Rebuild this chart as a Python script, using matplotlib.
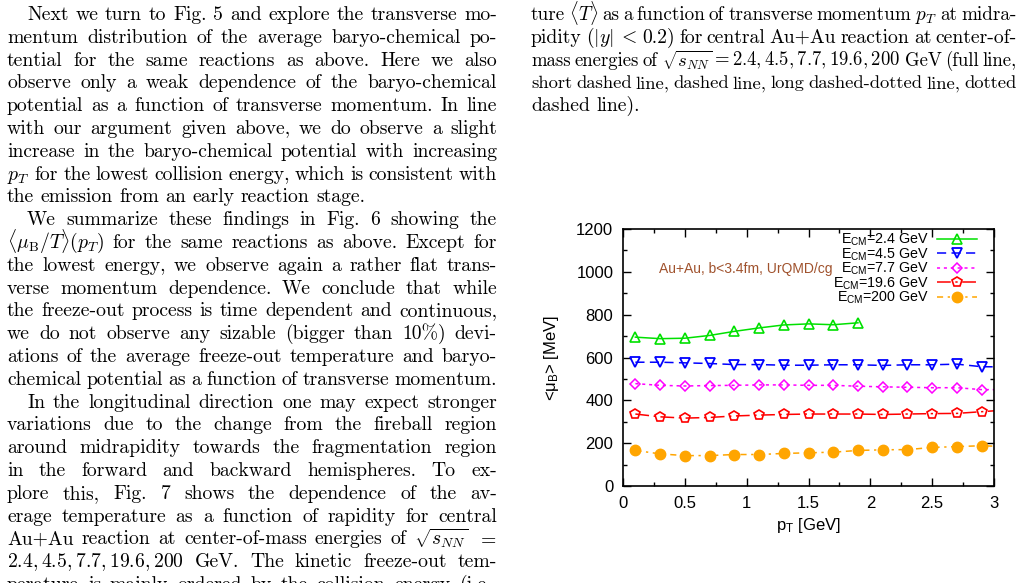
import matplotlib
matplotlib.use('Agg')
import matplotlib.pyplot as plt
from matplotlib.ticker import MultipleLocator

plt.rcParams['mathtext.fontset'] = 'custom'
plt.rcParams['mathtext.rm'] = 'Liberation Sans'
plt.rcParams['mathtext.it'] = 'Liberation Sans:italic'
plt.rcParams['mathtext.bf'] = 'Liberation Sans:bold'
plt.rcParams['font.family'] = ['Liberation Sans', 'DejaVu Sans']

## Data
pt = [0.1, 0.3, 0.5, 0.7, 0.9, 1.1, 1.3, 1.5, 1.7, 1.9, 2.1, 2.3, 2.5, 2.7, 2.9, 3.1]
mu_24 = [695, 688, 690, 703, 722, 738, 752, 757, 753, 762]
mu_45 = [578, 578, 575, 572, 567, 567, 564, 564, 566, 566, 563, 566, 566, 569, 557, 556]
mu_77 = [478, 470, 467, 469, 470, 472, 472, 470, 470, 466, 463, 461, 459, 459, 450, 450]
mu_196 = [336, 323, 317, 320, 327, 331, 334, 336, 336, 336, 334, 336, 338, 339, 347, 355]
mu_200 = [166, 150, 142, 142, 147, 147, 152, 155, 158, 166, 169, 170, 180, 184, 188, 184]
labels = ['E$_{\\rm CM}$=2.4 GeV', 'E$_{\\rm CM}$=4.5 GeV', 'E$_{\\rm CM}$=7.7 GeV',
          'E$_{\\rm CM}$=19.6 GeV', 'E$_{\\rm CM}$=200 GeV']

# page text (line breaks as in the paper)
left_paras = [
    ["Next we turn to Fig. 5 and explore the transverse mo-",
     "mentum distribution of the average baryo-chemical po-",
     "tential for the same reactions as above. Here we also",
     "observe only a weak dependence of the baryo-chemical",
     "potential as a function of transverse momentum. In line",
     "with our argument given above, we do observe a slight",
     "increase in the baryo-chemical potential with increasing",
     "$p_T$ for the lowest collision energy, which is consistent with",
     "the emission from an early reaction stage."],
    ["We summarize these findings in Fig. 6 showing the",
     r"$\langle\mu_\mathrm{B}/T\rangle(p_T)$ for the same reactions as above. Except for",
     "the lowest energy, we observe again a rather flat trans-",
     "verse momentum dependence. We conclude that while",
     "the freeze-out process is time dependent and continuous,",
     "we do not observe any sizable (bigger than 10%) devi-",
     "ations of the average freeze-out temperature and baryo-",
     "chemical potential as a function of transverse momentum."],
    ["In the longitudinal direction one may expect stronger",
     "variations due to the change from the fireball region",
     "around midrapidity towards the fragmentation region",
     "in the forward and backward hemispheres. To ex-",
     "plore this, Fig. 7 shows the dependence of the av-",
     "erage temperature as a function of rapidity for central",
     r"Au+Au reaction at center-of-mass energies of $\sqrt{s_{NN}}$ $=$",
     r"$2.4,4.5,7.7,19.6,200$ GeV. The kinetic freeze-out tem-",
     "perature is mainly ordered by the collision energy (i.e.,"],
]
right_lines = [
    r"ture $\langle{T}\rangle$ as a function of transverse momentum $p_T$ at midra-",
    r"pidity ($|y|$ $<$ 0.2) for central Au+Au reaction at center-of-",
    r"mass energies of $\sqrt{s_{NN}}=2.4,4.5,7.7,19.6,200$ GeV (full line,",
    "short dashed line, dashed line, long dashed-dotted line, dotted",
    "dashed line).",
]

W, H = 1029, 583
fig = plt.figure(figsize=(W / 100, H / 100), dpi=100)
renderer = fig.canvas.get_renderer()

FS = 14.2
LEAD = 22.8
BASE0 = 20.0
SPACE = 6.4
MINGAP = 4.0


def put_line(line, x0, x1, y, justify):
    words = line.split(' ')
    items = []
    for w in words:
        t = fig.text(0, 1 - y / H, w, fontsize=FS, family='cmr10', math_fontfamily='cm',
                     va='baseline', ha='left')
        items.append([t, t.get_window_extent(renderer).width])
    total = sum(it[1] for it in items)
    n = len(items)
    gap = SPACE
    if n > 1:
        fit = (x1 - x0 - total) / (n - 1)
        gap = fit if justify else min(SPACE, fit)
        if gap < MINGAP:
            # squeeze the line a little so it still fits the column
            s = (x1 - x0 - MINGAP * (n - 1)) / total
            for it in items:
                it[0].set_fontsize(FS * s)
                it[1] *= s
            gap = MINGAP
    x = x0
    for t, wd in items:
        t.set_x(x / W)
        x += wd + gap


def put_column(paras, x0, x1):
    row = 0
    for i, para in enumerate(paras):
        for j, line in enumerate(para):
            indent = 20 if j == 0 else 0
            last = (j == len(para) - 1) and i < len(paras) - 1
            put_line(line, x0 + indent, x1, BASE0 + row * LEAD, not last)
            row += 1


put_column(left_paras, 7, 497)
for k, line in enumerate(right_lines):
    put_line(line, 531, 1017, BASE0 + k * LEAD, k < len(right_lines) - 1)

# Viz
ax = fig.add_axes([623 / W, 1 - 486 / H, 371 / W, 257 / H])

ax.plot(pt[:len(mu_24)], mu_24, color='#00e000', lw=1.1, marker='^', ms=7.5,
        mfc='none', mew=1.2, label=labels[0])
ax.plot(pt, mu_45, color='#0000ff', lw=1.1, ls=(0, (6, 3.5)), marker='v', ms=7.5,
        mfc='none', mew=1.3, label=labels[1])
ax.plot(pt, mu_77, color='#ff00ff', lw=1.1, ls=(0, (2, 2.5)), marker='D', ms=5.5,
        mfc='none', mew=1.1, label=labels[2])
ax.plot(pt, mu_196, color='#ff0000', lw=1.1, ls=(0, (9, 3, 1.5, 3)), marker='p', ms=7.5,
        mfc='none', mew=1.2, label=labels[3])
ax.plot(pt, mu_200, color='#ffa500', lw=1.1, ls=(0, (4, 3, 1.5, 3)), marker='o', ms=7.5,
        label=labels[4])

ax.set_xlim(0, 3)
ax.set_ylim(0, 1200)
ax.xaxis.set_major_locator(MultipleLocator(0.5))
ax.xaxis.set_minor_locator(MultipleLocator(0.25))
ax.yaxis.set_major_locator(MultipleLocator(200))
ax.yaxis.set_minor_locator(MultipleLocator(100))
ax.set_xticks([0, 0.5, 1, 1.5, 2, 2.5, 3])
ax.set_xticklabels(['0', '0.5', '1', '1.5', '2', '2.5', '3'])
ax.tick_params(which='both', direction='in', top=True, right=True, labelsize=12, width=1)
ax.tick_params(which='major', length=6, pad=7)
ax.tick_params(which='minor', length=3)
for s in ax.spines.values():
    s.set_linewidth(1.2)

ax.set_xlabel('p$_{\\rm T}$ [GeV]', fontsize=12, labelpad=4)
ax.set_ylabel('<μ$_{\\rm B}$> [MeV]', fontsize=12, labelpad=11)

ax.text(0.29, 1012, 'Au+Au, b<3.4fm, UrQMD/cg', color='#a0522d', fontsize=10, va='center')

ax.legend(loc='upper right', bbox_to_anchor=(0.955, 0.99), frameon=False, markerfirst=False,
          fontsize=10.3, handlelength=2.8, handletextpad=0.6, labelspacing=-0.13,
          borderpad=0, borderaxespad=0, numpoints=1)

fig.savefig('out.png', dpi=100)
